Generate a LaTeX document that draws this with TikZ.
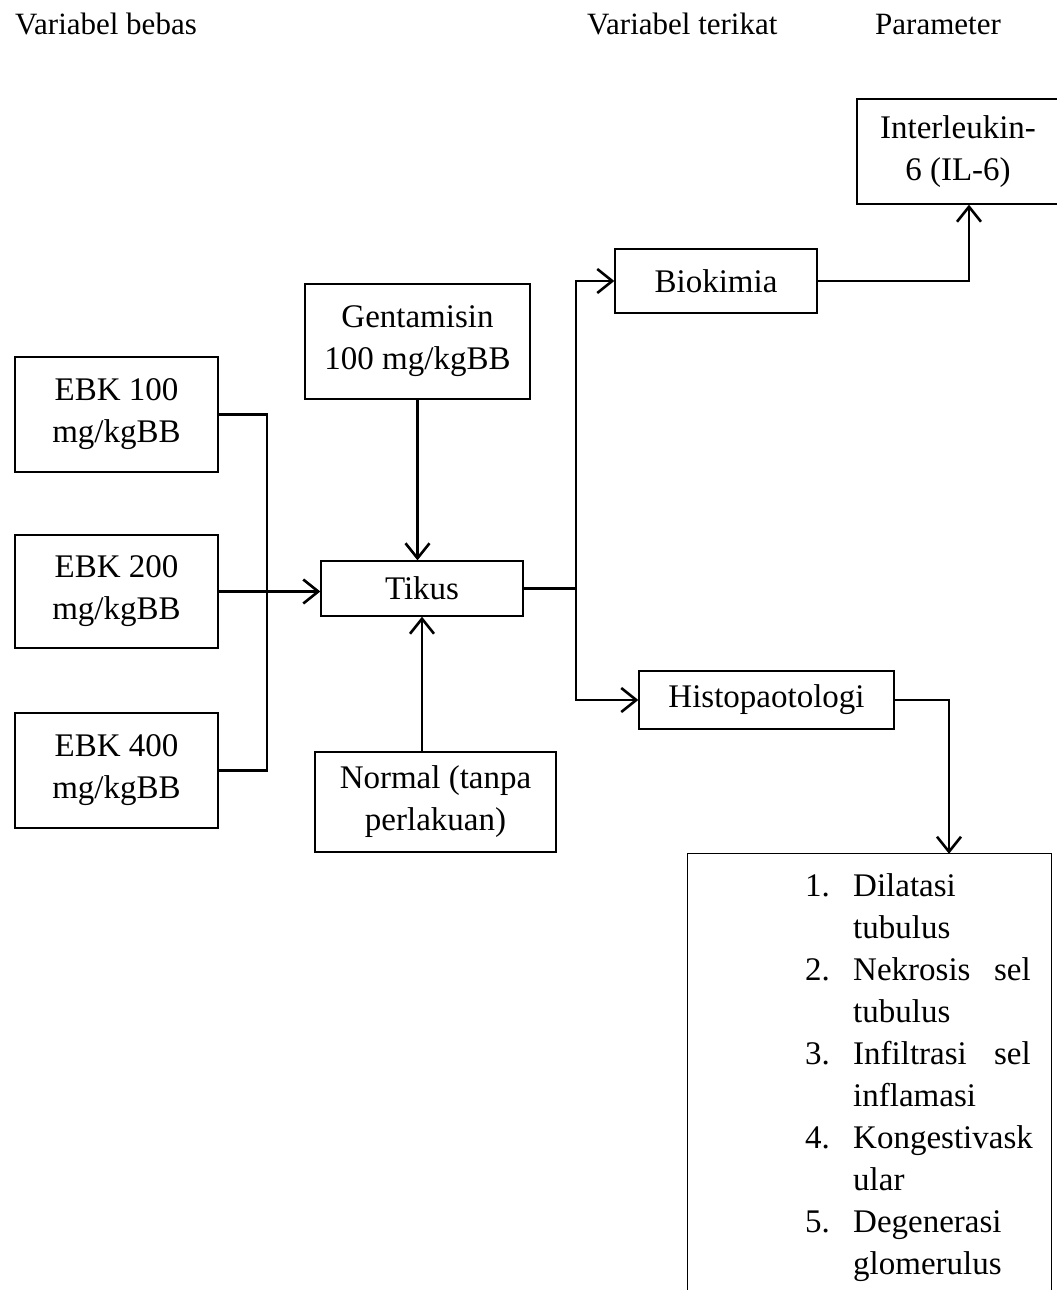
\documentclass[tikz,border=0pt]{standalone}
\usepackage{fontspec}
\setmainfont{Liberation Serif}
\usetikzlibrary{arrows.meta}
\begin{document}
\begin{tikzpicture}[x=1pt,y=-1pt,
  box/.style={draw, line width=1.3pt, inner sep=0pt, align=center, font=\fontsize{33}{42}\selectfont},
  conn/.style={line width=2.6pt},
  arr/.style={conn, -{Straight Barb[length=15pt,width=24pt,line width=2.6pt]}},
  hdr/.style={font=\fontsize{31}{36}\selectfont, anchor=base west, inner sep=0pt},
  item/.style={font=\fontsize{33}{42}\selectfont, inner sep=0pt}]
\useasboundingbox (0,0) rectangle (1057,1290);
\fill[white] (0,0) rectangle (1057,1290);

% headers
\node[hdr] (h1) at (15,35) {Variabel bebas};
\node[hdr] (h2) at (587,35) {Variabel terikat};
\node[hdr] (h3) at (875,35) {Parameter};

% left column
\node[box, minimum width=203pt, minimum height=115pt] (e1) at (116.5,414.5) {EBK 100\\mg/kgBB};
\node[box, minimum width=203pt, minimum height=113pt] (e2) at (116.5,591.5) {EBK 200\\mg/kgBB};
\node[box, minimum width=203pt, minimum height=115pt] (e3) at (116.5,770.5) {EBK 400\\mg/kgBB};

% middle
\node[box, minimum width=225pt, minimum height=115pt] (gent) at (417.5,341.5) {Gentamisin\\100 mg/kgBB};
\node[box, minimum width=202pt, minimum height=55pt] (tikus) at (422,588.5) {Tikus};
\node[box, minimum width=241pt, minimum height=100pt] (normal) at (435.5,802) {Normal (tanpa\\perlakuan)};

% right
\node[box, minimum width=202pt, minimum height=64pt] (bio) at (716,281) {Biokimia};
\node[box, minimum width=255pt, minimum height=58pt] (histo) at (766.5,700) {Histopaotologi};
\node[box, minimum width=202pt, minimum height=105pt] (il) at (958,151.5) {Interleukin-\\6 (IL-6)};

% parameter box (open at the bottom)
\node[minimum width=363pt, minimum height=450pt, inner sep=0pt] (par) at (869.5,1079) {};
\draw[line width=1.3pt] (par.south west) -- (par.north west) -- (par.north east) -- (par.south east);

% list items
\node[item, anchor=base west] (n1) at (805,896) {1.};
\node[item, anchor=base west] (t1a) at (853,896) {Dilatasi};
\node[item, anchor=base west] (t1b) at (853,938) {tubulus};
\node[item, anchor=base west] (n2) at (805,980) {2.};
\node[item, anchor=base west] (t2a) at (853,980) {Nekrosis};
\node[item, anchor=base east] (t2s) at (1031,980) {sel};
\node[item, anchor=base west] (t2b) at (853,1022) {tubulus};
\node[item, anchor=base west] (n3) at (805,1064) {3.};
\node[item, anchor=base west] (t3a) at (853,1064) {Infiltrasi};
\node[item, anchor=base east] (t3s) at (1031,1064) {sel};
\node[item, anchor=base west] (t3b) at (853,1106) {inflamasi};
\node[item, anchor=base west] (n4) at (805,1148) {4.};
\node[item, anchor=base west] (t4a) at (853,1148) {Kongestivask};
\node[item, anchor=base west] (t4b) at (853,1190) {ular};
\node[item, anchor=base west] (n5) at (805,1232) {5.};
\node[item, anchor=base west] (t5a) at (853,1232) {Degenerasi};
\node[item, anchor=base west] (t5b) at (853,1274) {glomerulus};

% junctions
\coordinate (jl) at (267,588);
\coordinate (jr) at (576,588.5);

% connectors
\draw[conn] (e1.east) -| (jl) |- (e3.east);
\draw[arr] (e2.east) -- (e2.east -| tikus.west);
\draw[arr] (gent.south) -- (gent.south |- tikus.north);
\draw[arr] (tikus.south |- normal.north) -- (tikus.south);
\draw[conn] (tikus.east) -- (jr);
\draw[arr] (jr) |- (bio.west);
\draw[arr] (jr) |- (histo.west);
\draw[arr] (bio.east) -| ([xshift=11pt]il.south);
\draw[arr] (histo.east) -| ([xshift=79.5pt]par.north);
\end{tikzpicture}
\end{document}
